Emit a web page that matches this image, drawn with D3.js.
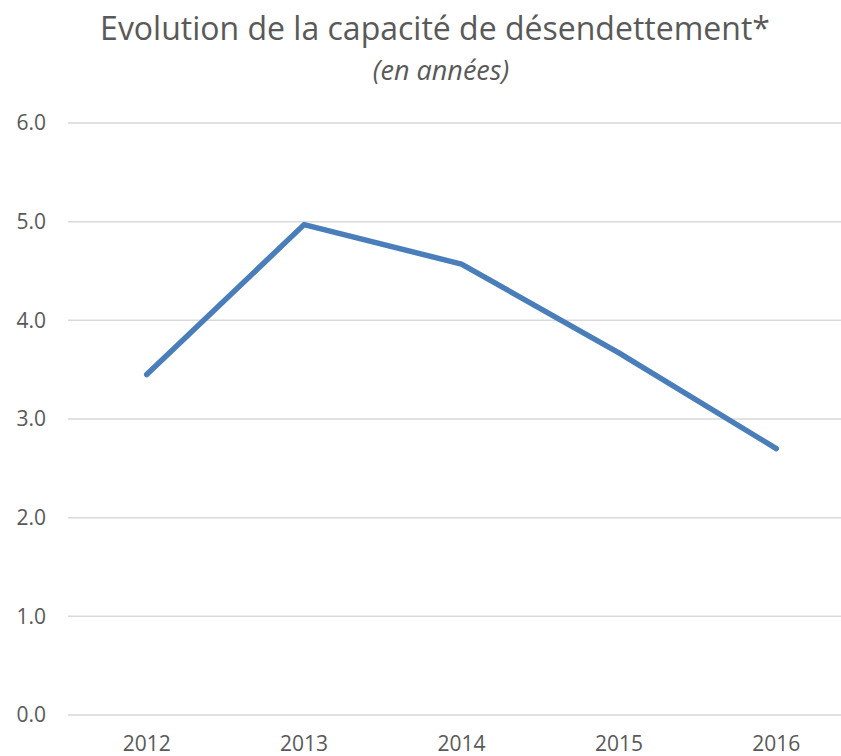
<!DOCTYPE html>
<html>
<head>
<meta charset="utf-8">
<script src="https://cdn.jsdelivr.net/npm/d3@7"></script>
<style>
  body { margin: 0; background: #fff; }
  svg { display: block; }
  text { font-family: "Open Sans", sans-serif; fill: #595959; }
</style>
</head>
<body>
<div id="chart"></div>
<script>
// data
var years = ["2012", "2013", "2014", "2015", "2016"];
var capacite = [3.45, 4.97, 4.57, 3.67, 2.70];
var yTicks = [0, 1, 2, 3, 4, 5, 6];

var width = 841, height = 756;
var margin = { top: 123, left: 68, bottom: 41 };

var svg = d3.select("#chart").append("svg")
  .attr("width", width)
  .attr("height", height);

var x = d3.scaleBand()
  .domain(years)
  .range([margin.left, 855]);

var y = d3.scaleLinear()
  .domain([0, 6])
  .range([height - margin.bottom, margin.top]);

// gridlines
svg.append("g")
  .selectAll("line")
  .data(yTicks)
  .enter()
  .append("line")
  .attr("x1", margin.left)
  .attr("x2", 855)
  .attr("y1", function(d) { return y(d); })
  .attr("y2", function(d) { return y(d); })
  .attr("stroke", "#d9d9d9")
  .attr("stroke-width", 1.5);

// y labels
svg.append("g")
  .selectAll("text")
  .data(yTicks)
  .enter()
  .append("text")
  .attr("x", 46)
  .attr("y", function(d) { return y(d); })
  .attr("dy", "0.35em")
  .attr("text-anchor", "end")
  .style("font-size", "21px")
  .text(function(d) { return d3.format(".1f")(d); });

// x labels
svg.append("g")
  .selectAll("text")
  .data(years)
  .enter()
  .append("text")
  .attr("x", function(d) { return x(d) + x.bandwidth() / 2; })
  .attr("y", 751)
  .attr("text-anchor", "middle")
  .style("font-size", "21px")
  .text(function(d) { return d; });

// the line
var line = d3.line()
  .x(function(d, i) { return x(years[i]) + x.bandwidth() / 2; })
  .y(function(d) { return y(d); });

svg.append("path")
  .datum(capacite)
  .attr("d", line)
  .attr("fill", "none")
  .attr("stroke", "#4a7ebb")
  .attr("stroke-width", 5.5)
  .attr("stroke-linejoin", "round")
  .attr("stroke-linecap", "round");

// titles
svg.append("text")
  .attr("x", 435)
  .attr("y", 40)
  .attr("text-anchor", "middle")
  .style("font-size", "32px")
  .text("Evolution de la capacité de désendettement*");

svg.append("text")
  .attr("x", 441)
  .attr("y", 80)
  .attr("text-anchor", "middle")
  .style("font-size", "27px")
  .style("font-style", "italic")
  .text("(en années)");
</script>
</body>
</html>
